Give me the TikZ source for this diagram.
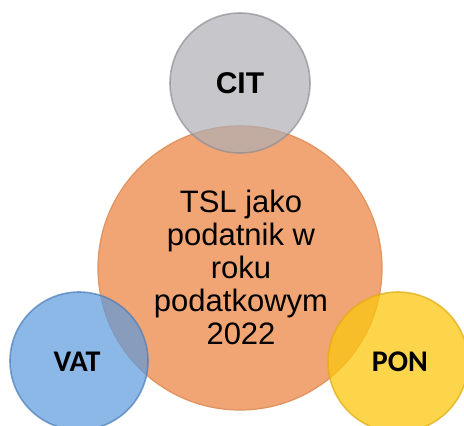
\documentclass[tikz,border=0pt]{standalone}
\usepackage{fontspec}
\setmainfont{Liberation Sans}
\newfontfamily\calib{Carlito}
\definecolor{orangeF}{HTML}{F2A574}
\definecolor{orangeE}{HTML}{E0935F}
\definecolor{grayF}{HTML}{AEAEB5}
\definecolor{grayE}{HTML}{8E8E96}
\definecolor{blueF}{HTML}{5C9ADE}
\definecolor{blueE}{HTML}{4A7DB8}
\definecolor{yellowF}{HTML}{FBC710}
\definecolor{yellowE}{HTML}{E0AC10}
\tikzset{
  bubble/.style={circle, inner sep=0pt},
  glass/.style={bubble, fill opacity=0.7, draw opacity=0.7, line width=1.6pt},
  lbl/.style={inner sep=0pt, text=black},
}
\begin{document}
\begin{tikzpicture}[x=1pt,y=-1pt]
\useasboundingbox (0,0) rectangle (464,426);
\fill[white] (0,0) rectangle (464,426);
% central circle
\node[bubble, minimum size=284pt, fill=orangeF, draw=orangeE, line width=1.2pt] (tsl) at (240,268) {};
% small circles
\node[glass, minimum size=140pt, fill=grayF, draw=grayE] (cit) at (240,83) {};
\node[glass, minimum size=138pt, fill=blueF, draw=blueE] (vat) at (79,361) {};
\node[glass, fill opacity=0.75, minimum size=140pt, fill=yellowF, draw=yellowE] (pon) at (398,362) {};
% labels
\node[lbl, font=\bfseries\fontsize{30}{32}\selectfont] (citt) at (cit.center) {CIT};
\node[lbl, font=\calib\bfseries\fontsize{30}{32}\selectfont] (vatt) at (77,361.5) {VAT};
\node[lbl, font=\calib\bfseries\fontsize{30}{32}\selectfont] (pont) at (400,361.5) {PON};
\node[lbl, align=center, font=\fontsize{31}{33}\selectfont] (tslt) at (241,267) {TSL jako\\podatnik w\\roku\\podatkowym\\2022};
\end{tikzpicture}
\end{document}
